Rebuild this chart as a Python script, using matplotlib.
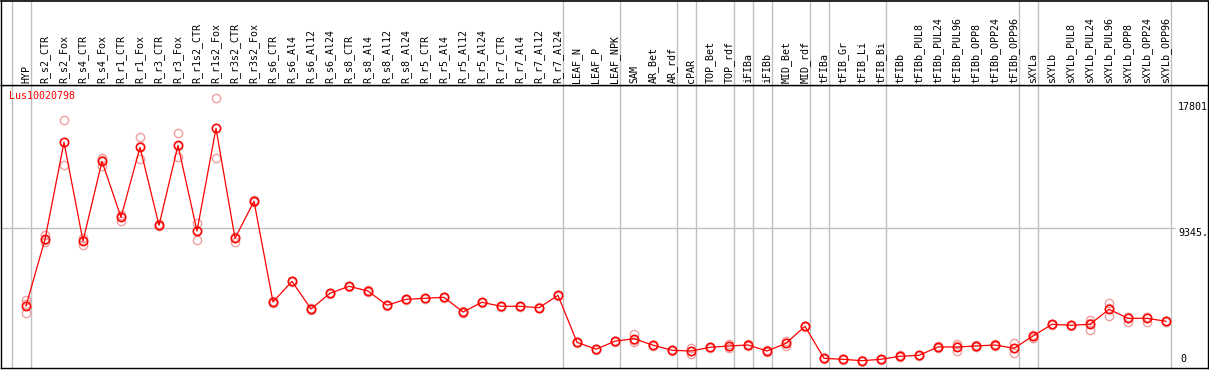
import matplotlib
matplotlib.use('Agg')
import matplotlib.pyplot as plt
import numpy as np

gene = 'Lus10020798'

samples = ['HYP', 'R_s2_CTR', 'R_s2_Fox', 'R_s4_CTR', 'R_s4_Fox', 'R_r1_CTR', 'R_r1_Fox',
           'R_r3_CTR', 'R_r3_Fox', 'R_r1s2_CTR', 'R_r1s2_Fox', 'R_r3s2_CTR', 'R_r3s2_Fox',
           'R_s6_CTR', 'R_s6_Al4', 'R_s6_Al12', 'R_s6_Al24', 'R_s8_CTR', 'R_s8_Al4', 'R_s8_Al12',
           'R_s8_Al24', 'R_r5_CTR', 'R_r5_Al4', 'R_r5_Al12', 'R_r5_Al24', 'R_r7_CTR', 'R_r7_Al4',
           'R_r7_Al12', 'R_r7_Al24', 'LEAF_N', 'LEAF_P', 'LEAF_NPK', 'SAM', 'AR_Bet', 'AR_rdf',
           'cPAR', 'TOP_Bet', 'TOP_rdf', 'iFIBa', 'iFIBb', 'MID_Bet', 'MID_rdf', 'tFIBa',
           'tFIB_Gr', 'tFIB_Li', 'tFIB_Bi', 'tFIBb', 'tFIBb_PUL8', 'tFIBb_PUL24', 'tFIBb_PUL96',
           'tFIBb_OPP8', 'tFIBb_OPP24', 'tFIBb_OPP96', 'sXYLa', 'sXYLb', 'sXYLb_PUL8',
           'sXYLb_PUL24', 'sXYLb_PUL96', 'sXYLb_OPP8', 'sXYLb_OPP24', 'sXYLb_OPP96']

means = [4151, 8616, 15111, 8503, 13838, 10089, 14776, 9554, 14910, 9172, 16048, 8683, 11161,
         4419, 5805, 3950, 5001, 5470, 5155, 4198, 4599, 4666, 4733, 3749, 4399, 4131, 4131,
         4037, 4867, 1721, 1259, 1794, 1962, 1526, 1185, 1138, 1386, 1473, 1540, 1138, 1654,
         2792, 649, 582, 489, 582, 783, 850, 1406, 1406, 1473, 1540, 1319, 2142, 2926, 2859,
         2926, 3930, 3327, 3327, 3127]

replicates = [
    [4553, 4285, 3662], [8904, 8416, 8570], [16604, 13571, 15150], [8683, 8235, 8570],
    [14080, 13926, 13510], [10244, 9862, 10176], [15446, 13993, 14880], [9641, 9507, 9520],
    [15713, 14146, 14870], [9728, 8550, 9240], [18057, 14040, 16050], [8790, 8456, 8800],
    [11230, 11100, 11150], [4460, 4380, 4420], [5850, 5760, 5800], [3990, 3910, 3950],
    [5050, 4950, 5000], [5510, 5430, 5470], [5200, 5110, 5150], [4240, 4160, 4200],
    [4640, 4560, 4600], [4700, 4630, 4670], [4770, 4700, 4730], [3790, 3710, 3750],
    [4440, 4360, 4400], [4170, 4090, 4130], [4170, 4090, 4130], [4080, 4000, 4040],
    [4910, 4830, 4870], [1760, 1680, 1720], [1300, 1220, 1260], [1830, 1760, 1790],
    [2256, 1761, 1870], [1570, 1490, 1530], [1230, 1150, 1190], [1319, 937, 1160],
    [1430, 1350, 1390], [1607, 1339, 1470], [1580, 1500, 1540], [1180, 1100, 1140],
    [1828, 1473, 1660], [2840, 2750, 2790], [690, 610, 650], [620, 540, 580],
    [530, 450, 490], [620, 540, 580], [870, 703, 780], [890, 810, 850],
    [1450, 1370, 1410], [1587, 1138, 1490], [1510, 1430, 1470], [1580, 1500, 1540],
    [1654, 984, 1320], [2028, 2180, 2140], [2970, 2880, 2930], [2900, 2820, 2860],
    [3214, 2544, 2990], [4332, 3461, 3990], [3435, 3100, 3440], [3435, 3100, 3440],
    [3170, 3090, 3130],
]

# first sample index of each tissue group
group_starts = [0, 1, 29, 32, 35, 36, 38, 39, 40, 42, 43, 46, 53, 54, 61]

y_max_label = 17801
y_mid_label = 9345

W, H = 1209, 370
fig = plt.figure(figsize=(W / 100, H / 100), dpi=100)
ax = fig.add_axes([1 / W, 2 / H, 1207 / W, 283 / H])
hx = fig.add_axes([1 / W, (H - 85) / H, 1207 / W, 84.5 / H], sharex=ax)

x = np.arange(len(samples))
xlim = ((1 - 26) / 19, (1208 - 26) / 19)
ax.set_xlim(*xlim)
ax.set_ylim(0, 18947)
hx.set_ylim(0, 1)

grey = '#c0c0c0'
for g in group_starts:
    ax.axvline(g - 0.75, color=grey, lw=1, zorder=1)
    hx.axvline(g - 0.75, color=grey, lw=1, zorder=1)
ax.hlines(y_mid_label, xlim[0], 60.45, color=grey, lw=1, zorder=1)

for i, reps in enumerate(replicates):
    ax.plot([i] * len(reps), reps, 'o', ms=6, mfc='none', mec='#f0a0a0', mew=1.0, zorder=2)

ax.plot(x, means, '-', color='#ff0000', lw=0.9, zorder=3)
ax.plot(x, means, 'o', ms=6, mfc='none', mec='#ff0000', mew=1.1, zorder=4)

font = 'DejaVu Sans Mono'
for i, s in enumerate(samples):
    hx.text(i, 2 / 85, s, rotation=90, ha='center', va='bottom', fontsize=7.2,
            family=font, color='black')

ax.text(8 / 1207, 1 - 6 / 283, gene, transform=ax.transAxes, ha='left', va='top',
        fontsize=7.2, family=font, color='red')
ax.text(60.63, y_max_label, str(y_max_label), ha='left', va='top', fontsize=7.2, family=font)
ax.text(60.63, y_mid_label, f'{y_mid_label}.', ha='left', va='top', fontsize=7.2, family=font)
ax.text(60.75, 0, '0', ha='left', va='bottom', fontsize=7.2, family=font,
        transform=ax.transData + matplotlib.transforms.ScaledTranslation(0, 4 / 100, fig.dpi_scale_trans))

for a in (ax, hx):
    a.set_xticks([])
    a.set_yticks([])
    for sp in a.spines.values():
        sp.set_color('black')
        sp.set_linewidth(1.0)
hx.spines['top'].set_linewidth(1.2)

fig.savefig('out.png', dpi=100)
